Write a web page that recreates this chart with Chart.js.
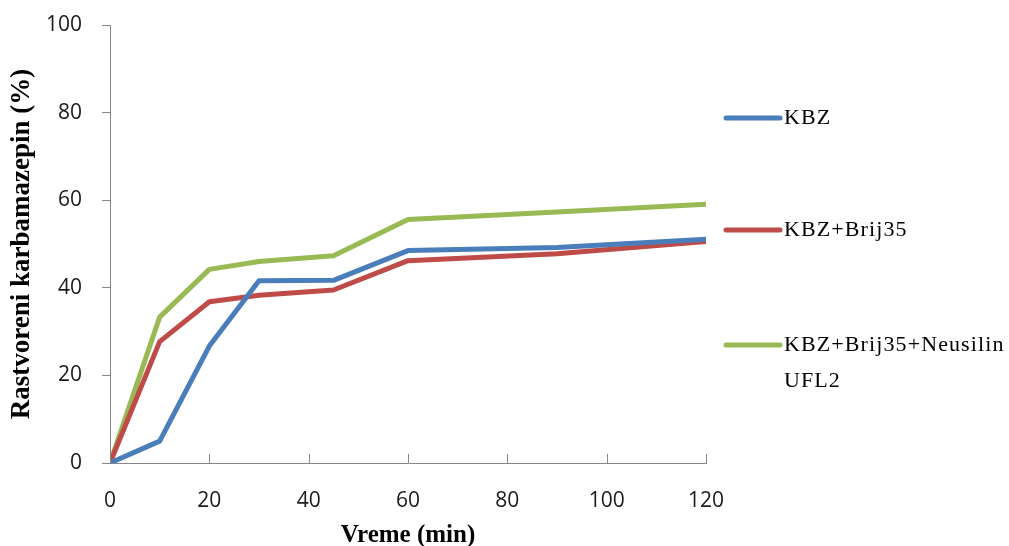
<!DOCTYPE html>
<html>
<head>
<meta charset="utf-8">
<script src="https://cdn.jsdelivr.net/npm/chart.js@4.4.0/dist/chart.umd.min.js"></script>
<style>
  html, body { margin: 0; padding: 0; background: #fff; }
  #wrap { width: 1009px; height: 546px; }
</style>
</head>
<body>
<div id="wrap"><canvas id="lineChart" width="1009" height="546"></canvas></div>
<script>
// time points (min)
const times = [0, 10, 20, 30, 45, 60, 90, 120];
// dissolved carbamazepine (%)
const kbz = [0, 5, 26.7, 41.6, 41.7, 48.5, 49.2, 51.1];
const kbzBrij = [0, 27.7, 36.8, 38.3, 39.5, 46.2, 47.8, 50.6];
const kbzBrijNeusilin = [0, 33.3, 44.2, 46.0, 47.3, 55.6, 57.3, 59.1];
const seriesNames = ['KBZ', 'KBZ+Brij35', 'KBZ+Brij35+Neusilin UFL2'];
const seriesColors = ['#4a7ebb', '#be4b48', '#98b954'];
const xTicks = [0, 20, 40, 60, 80, 100, 120];
const yTicks = [0, 20, 40, 60, 80, 100];

const axisColor = '#868686';
const serif = '"Liberation Serif", "Times New Roman", serif';

function toPoints(values) {
    return times.map((t, i) => ({ x: t, y: values[i] }));
}

// Excel style x ticks point up into the plot
const innerTicks = {
    id: 'innerTicks',
    afterDraw(chart) {
        const ctx = chart.ctx;
        const xs = chart.scales.x;
        const bottom = chart.chartArea.bottom;
        ctx.save();
        ctx.strokeStyle = axisColor;
        ctx.lineWidth = 1;
        xTicks.forEach(v => {
            const px = Math.round(xs.getPixelForValue(v)) + 0.5;
            ctx.beginPath();
            ctx.moveTo(px, bottom);
            ctx.lineTo(px, bottom - 9);
            ctx.stroke();
        });
        ctx.restore();
    }
};

// legend on the right, one item per row with wrapping
const sideLegend = {
    id: 'sideLegend',
    afterDraw(chart) {
        const ctx = chart.ctx;
        const rows = [118, 230, 345];
        const lineX0 = 726, lineX1 = 780, textX = 784, maxW = 226;
        ctx.save();
        ctx.font = '22px ' + serif;
        ctx.letterSpacing = '1.1px';
        ctx.textBaseline = 'middle';
        ctx.fillStyle = '#000';
        chart.data.datasets.forEach((ds, i) => {
            const y = rows[i];
            ctx.strokeStyle = ds.borderColor;
            ctx.lineWidth = 5;
            ctx.lineCap = 'round';
            ctx.beginPath();
            ctx.moveTo(lineX0, y);
            ctx.lineTo(lineX1, y);
            ctx.stroke();
            // simple word wrap
            const words = ds.label.split(' ');
            let lines = [], cur = '';
            words.forEach(w => {
                const test = cur ? cur + ' ' + w : w;
                if (ctx.measureText(test).width > maxW && cur) {
                    lines.push(cur);
                    cur = w;
                } else {
                    cur = test;
                }
            });
            lines.push(cur);
            lines.forEach((ln, k) => ctx.fillText(ln, textX, y + k * 36));
        });
        ctx.restore();
    }
};

const datasets = [kbz, kbzBrij, kbzBrijNeusilin].map((vals, i) => ({
    label: seriesNames[i],
    data: toPoints(vals),
    borderColor: seriesColors[i],
    backgroundColor: seriesColors[i],
    borderWidth: 5,
    borderJoinStyle: 'round',
    pointRadius: 0,
    tension: 0,
    fill: false
}));

const ctxLine = document.getElementById('lineChart').getContext('2d');
const lineChart = new Chart(ctxLine, {
    type: 'line',
    data: { datasets: datasets },
    plugins: [innerTicks, sideLegend],
    options: {
        responsive: false,
        animation: false,
        layout: { padding: { top: 0, right: 303, bottom: 0, left: 0 } },
        plugins: {
            legend: { display: false },
            tooltip: { enabled: false }
        },
        scales: {
            x: {
                type: 'linear',
                min: 0,
                max: 120,
                afterBuildTicks: axis => { axis.ticks = xTicks.map(v => ({ value: v })); },
                afterFit: axis => { axis.height = 83; },
                grid: { display: false },
                border: { display: true, color: axisColor, width: 1 },
                ticks: {
                    padding: 17,
                    color: '#1a1a1a',
                    font: { family: '"Open Sans", sans-serif', size: 21 },
                    maxRotation: 0
                },
                title: {
                    display: true,
                    text: 'Vreme (min)',
                    color: '#000',
                    padding: { top: 0, bottom: 0 },
                    font: { family: serif, size: 25, weight: 'bold', lineHeight: 0.85 }
                }
            },
            y: {
                min: 0,
                max: 100,
                afterBuildTicks: axis => { axis.ticks = yTicks.map(v => ({ value: v })); },
                afterFit: axis => {
                    axis.width = 110;
                    // tick padding is otherwise added on top of the plot
                    axis.paddingTop = 25;
                },
                grid: {
                    display: true,
                    drawOnChartArea: false,
                    drawTicks: true,
                    tickLength: 8,
                    color: axisColor
                },
                border: { display: true, color: axisColor, width: 1 },
                ticks: {
                    padding: 20,
                    color: '#1a1a1a',
                    font: { family: '"Open Sans", sans-serif', size: 21 }
                },
                title: {
                    display: true,
                    text: 'Rastvoreni karbamazepin (%)',
                    color: '#000',
                    padding: { top: 6, bottom: 0 },
                    font: { family: serif, size: 27, weight: 'bold' }
                }
            }
        }
    }
});
</script>
</body>
</html>
